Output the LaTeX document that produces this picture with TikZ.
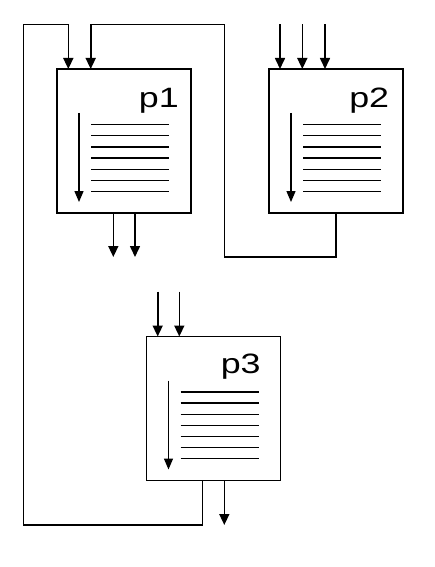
\documentclass[tikz,border=0pt]{standalone}
\usepackage{fontspec}
\setmainfont{Liberation Sans}
\usetikzlibrary{arrows.meta,calc}
\begin{document}
\begin{tikzpicture}[x=1pt,y=-1pt,
  proc/.style={draw, line width=1.8pt, minimum width=134pt, minimum height=144pt, inner sep=0pt, outer sep=0pt},
  arr/.style={line width=1.6pt, -{Triangle[width=10pt,length=11pt]}},
  inarr/.style={line width=1.3pt, -{Triangle[width=9pt,length=11pt]}},
  wire/.style={line width=1.2pt},
  thinl/.style={line width=0.9pt},
  thickl/.style={line width=1.8pt},
  lbl/.style={anchor=base west, inner sep=0pt, xscale=1.28, font=\fontsize{28}{32}\selectfont}]
\useasboundingbox (0,0) rectangle (434,567);
% boxes
\node[proc] (p1) at (124,141) {};
\node[proc] (p2) at (336,141) {};
\node[proc] (p3) at (213.5,408.5) {};
% labels
\node[lbl] (l1) at (138.6,107) {p1};
\node[lbl] (l2) at (349,107) {p2};
\node[lbl] (l3) at (220.5,373.5) {p3};
% inner contents
\foreach \b/\ta/\tb in {p1/3/4, p2/3/4, p3/1/2} {
  \begin{scope}[shift={(\b.north west)}]
    \coordinate (\b a) at (22,44);
    \coordinate (\b b) at (22,133);
    \draw[inarr] (\b a) -- (\b b);
    \foreach \i in {1,...,7} {
      \pgfmathsetmacro{\yy}{44+11.2*\i}
      \ifnum\i=\ta \def\st{thickl}\else\ifnum\i=\tb \def\st{thickl}\else\def\st{thinl}\fi\fi
      \draw[\st] (34,\yy) -- (112,\yy);
    }
  \end{scope}
}
% coordinates for wires
\coordinate (c1) at (23.3,24.3);
\coordinate (c2) at (68.3,24.3);
\coordinate (c3) at (90.7,24.3);
\coordinate (c4) at (224.3,24.3);
\coordinate (c5) at (224.3,257);
\coordinate (c6) at (336,257);
\coordinate (c7) at (202.3,525);
\coordinate (c8) at (23.3,525);
% p2 -> p1 feedback
\draw[wire] (c6 |- p2.south) -- (c6) -- (c5) -- (c4) -- (c3);
\draw[arr] (c3) -- (c3 |- p1.north);
% p3 -> p1 feedback
\draw[wire] (c7 |- p3.south) -- (c7) -- (c8) -- (c1) -- (c2);
\draw[arr] (c2) -- (c2 |- p1.north);
% p2 inputs
\coordinate (i21) at (280,24.3);
\coordinate (i22) at (302.3,24.3);
\coordinate (i23) at (325,24.3);
\draw[arr] (i21) -- (i21 |- p2.north);
\draw[arr] (i22) -- (i22 |- p2.north);
\draw[arr] (i23) -- (i23 |- p2.north);
% p1 outputs
\coordinate (o11) at (113.3,257);
\coordinate (o12) at (135,257);
\draw[arr] (o11 |- p1.south) -- (o11);
\draw[arr] (o12 |- p1.south) -- (o12);
% p3 inputs
\coordinate (i31) at (157.7,291.7);
\coordinate (i32) at (179.3,291.7);
\draw[arr] (i31) -- (i31 |- p3.north);
\draw[arr] (i32) -- (i32 |- p3.north);
% p3 output
\coordinate (o31) at (224.3,525);
\draw[arr] (o31 |- p3.south) -- (o31);
\end{tikzpicture}
\end{document}
